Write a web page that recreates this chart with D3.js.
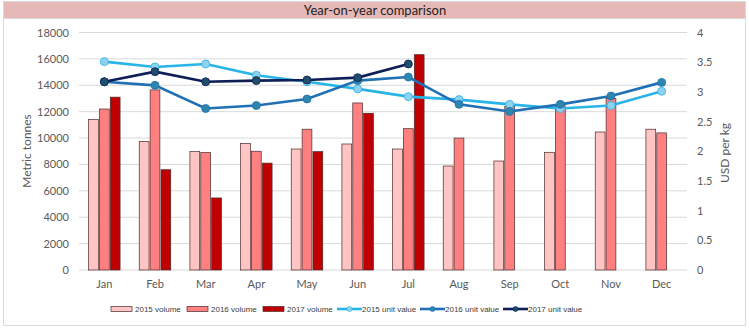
<!DOCTYPE html>
<html>
<head>
<meta charset="utf-8">
<script src="https://cdn.jsdelivr.net/npm/d3@7"></script>
<style>
  body { margin: 0; background: #fff; }
  svg text { font-family: Lato, "Open Sans", sans-serif; fill: #404040; }
</style>
</head>
<body>
<svg id="chart" width="749" height="331"></svg>
<script>
// monthly volumes (tonnes) and unit values (USD/kg)
var months = ["Jan","Feb","Mar","Apr","May","Jun","Jul","Aug","Sep","Oct","Nov","Dec"];
var vol2015 = [11400, 9750, 8970, 9600, 9170, 9550, 9170, 7880, 8260, 8920, 10460, 10670];
var vol2016 = [12200, 13650, 8900, 9000, 10670, 12660, 10710, 10000, 12400, 12450, 13000, 10390];
var vol2017 = [13100, 7600, 5460, 8100, 8970, 11880, 16320, null, null, null, null, null];
var uv2015 = [3.51, 3.42, 3.47, 3.28, 3.17, 3.05, 2.92, 2.87, 2.79, 2.72, 2.77, 3.01];
var uv2016 = [3.17, 3.11, 2.72, 2.77, 2.88, 3.19, 3.25, 2.79, 2.67, 2.79, 2.93, 3.16];
var uv2017 = [3.17, 3.34, 3.17, 3.19, 3.20, 3.24, 3.47, null, null, null, null, null];
var leftTicks = [0, 2000, 4000, 6000, 8000, 10000, 12000, 14000, 16000, 18000];
var rightTicks = [0, 0.5, 1, 1.5, 2, 2.5, 3, 3.5, 4];

var barSeries = [
  {name: "2015 volume", data: vol2015, color: "#ffc4c4"},
  {name: "2016 volume", data: vol2016, color: "#ff8080"},
  {name: "2017 volume", data: vol2017, color: "#c00000"}
];
var lineSeries = [
  {name: "2015 unit value", data: uv2015, color: "#29b4e8", marker: "#8fd2ef"},
  {name: "2016 unit value", data: uv2016, color: "#1f70b4", marker: "#2f86ac"},
  {name: "2017 unit value", data: uv2017, color: "#0e1f58", marker: "#1f4f6a"}
];

var svg = d3.select("#chart");
var plotL = 79, plotR = 687, plotT = 32.5, plotB = 270;

// outer frame + title band
svg.append("rect").attr("x", 3.5).attr("y", 1.5).attr("width", 742).attr("height", 324)
  .attr("fill", "#fff").attr("stroke", "#d9d9d9");
svg.append("rect").attr("x", 3.5).attr("y", 1.5).attr("width", 742).attr("height", 17)
  .attr("fill", "#e6b8b7").attr("stroke", "#d9d9d9");
svg.append("text").attr("x", 375).attr("y", 14.5).attr("text-anchor", "middle")
  .style("font-size", "13px").style("fill", "#222").text("Year-on-year comparison");

var x = d3.scaleBand().domain(months).range([plotL, plotR]);
var xs = d3.scaleBand().domain([0, 1, 2]).range([0, 31.5]).paddingInner(0.1);
var y = d3.scaleLinear().domain([0, 18000]).range([plotB, plotT]);
var y2 = d3.scaleLinear().domain([0, 4]).range([plotB, plotT]);

// gridlines
svg.append("g").selectAll("line").data(leftTicks).enter().append("line")
  .attr("x1", plotL).attr("x2", plotR)
  .attr("y1", function(d){ return y(d); }).attr("y2", function(d){ return y(d); })
  .attr("stroke", "#d9d9d9").attr("stroke-width", 1);

var yAxis = d3.axisLeft(y).tickValues(leftTicks).tickSize(0).tickPadding(10)
  .tickFormat(function(d){ return d; });
var gy = svg.append("g").attr("transform", "translate(" + plotL + ",0)").call(yAxis);
gy.select(".domain").remove();
gy.selectAll("text").style("font-size", "11px").style("fill", "#595959");

var yAxis2 = d3.axisRight(y2).tickValues(rightTicks).tickSize(0).tickPadding(10)
  .tickFormat(function(d){ return d; });
var gy2 = svg.append("g").attr("transform", "translate(" + plotR + ",0)").call(yAxis2);
gy2.select(".domain").remove();
gy2.selectAll("text").style("font-size", "11px").style("fill", "#595959").attr("text-anchor", "start");

var xAxis = d3.axisBottom(x).tickSize(0).tickPadding(10);
var gx = svg.append("g").attr("transform", "translate(0," + plotB + ")").call(xAxis);
gx.select(".domain").remove();
gx.selectAll("text").style("font-size", "11px").style("fill", "#595959");

svg.append("text").attr("transform", "translate(31,151) rotate(-90)")
  .attr("text-anchor", "middle").style("font-size", "12px").style("fill", "#595959").text("Metric tonnes");
svg.append("text").attr("transform", "translate(729,153) rotate(-90)")
  .attr("text-anchor", "middle").style("font-size", "12px").style("fill", "#595959").text("USD per kg");

// bars
barSeries.forEach(function(s, si){
  svg.append("g").selectAll("rect").data(s.data).enter()
    .filter(function(d){ return d != null; })
    .append("rect")
    .attr("x", function(d, i){ return x(months[i]) + (x.bandwidth() - 31.5) / 2 + xs(si); })
    .attr("y", function(d){ return y(d); })
    .attr("width", xs.bandwidth())
    .attr("height", function(d){ return plotB - y(d); })
    .attr("fill", s.color).attr("stroke", "#4a2a2a").attr("stroke-width", 0.7);
});

// unit value lines
var line = d3.line()
  .defined(function(d){ return d != null; })
  .x(function(d, i){ return x(months[i]) + x.bandwidth() / 2; })
  .y(function(d){ return y2(d); });

lineSeries.forEach(function(s){
  var pts = s.data.map(function(d, i){ return {v: d, i: i}; }).filter(function(p){ return p.v != null; });
  svg.append("path").datum(s.data).attr("d", line)
    .attr("fill", "none").attr("stroke", s.color).attr("stroke-width", 2.6);
  svg.append("g").selectAll("circle").data(pts).enter().append("circle")
    .attr("cx", function(p){ return x(months[p.i]) + x.bandwidth() / 2; })
    .attr("cy", function(p){ return y2(p.v); })
    .attr("r", 4)
    .attr("fill", s.marker).attr("stroke", s.color).attr("stroke-width", 0.8);
});

// legend
var lg = svg.append("g").attr("transform", "translate(0,309)");
var legendX = [111, 187, 263];
barSeries.forEach(function(s, i){
  lg.append("rect").attr("x", legendX[i]).attr("y", -2.5).attr("width", 21).attr("height", 5)
    .attr("fill", s.color).attr("stroke", "#4a2a2a").attr("stroke-width", 0.7);
  lg.append("text").attr("x", legendX[i] + 24).attr("y", 3)
    .style("font-family", "'Liberation Sans Narrow', sans-serif")
    .style("font-size", "8px").style("fill", "#404040").text(s.name);
});
var lineLegendX = [337, 420, 503];
lineSeries.forEach(function(s, i){
  lg.append("line").attr("x1", lineLegendX[i]).attr("x2", lineLegendX[i] + 25)
    .attr("y1", 0).attr("y2", 0).attr("stroke", s.color).attr("stroke-width", 2.6);
  lg.append("circle").attr("cx", lineLegendX[i] + 12.5).attr("cy", 0).attr("r", 2.5)
    .attr("fill", s.marker).attr("stroke", s.color).attr("stroke-width", 0.6);
  lg.append("text").attr("x", lineLegendX[i] + 25).attr("y", 3)
    .style("font-family", "'Liberation Sans Narrow', sans-serif")
    .style("font-size", "8px").style("fill", "#404040").text(s.name);
});
</script>
</body>
</html>
